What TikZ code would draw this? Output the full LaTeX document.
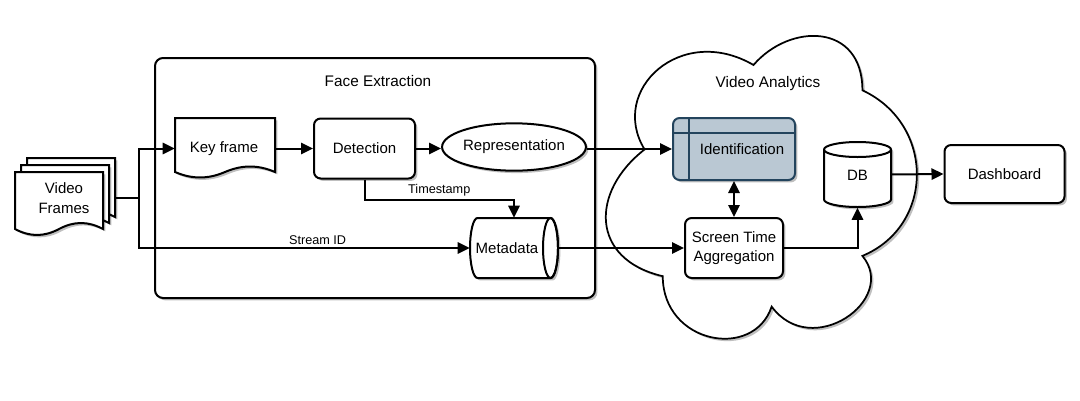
\documentclass[tikz,border=0pt]{standalone}
\usepackage{fontspec}
\setmainfont{Liberation Sans}
\usetikzlibrary{arrows.meta,shadows,shapes.geometric}
\newcommand\DocShp[5]{%
 \path[shp] (#1,#2) -- (#1+#3,#2) -- (#1+#3,#4)
   .. controls (#1+0.83*#3,#4-1.33*#5) and (#1+0.67*#3,#4-1.33*#5) .. (#1+0.5*#3,#4)
   .. controls (#1+0.33*#3,#4+1.33*#5) and (#1+0.17*#3,#4+1.33*#5) .. (#1,#4) -- cycle;}
\definecolor{idfill}{HTML}{BAC8D3}
\definecolor{idstroke}{HTML}{23445D}
\begin{document}
\begin{tikzpicture}[x=0.75pt,y=-0.75pt,
  shad/.style={drop shadow={shadow xshift=1.8pt,shadow yshift=-1.8pt,opacity=0.25,fill=black}},
  shp/.style={line width=1.5pt,draw=black,fill=white,shad},
  txt/.style={font=\fontsize{11.25}{14.5}\selectfont,align=center,inner sep=0pt},
  rbox/.style={shp,rounded corners=5pt,inner sep=0pt,txt},
  anch/.style={draw=none,fill=none,inner sep=0pt},
  lbl/.style={font=\fontsize{9.5}{11}\selectfont,inner sep=1.5pt},
  con/.style={line width=1.5pt,-{Triangle[length=9pt,width=8.5pt]}},
  plain/.style={line width=1.5pt}]
\useasboundingbox[fill=white] (0,0) rectangle (1080,400);

% Face Extraction container
\node[shp,rounded corners=6pt,minimum width=330pt,minimum height=180pt,inner sep=0pt] (fe) at (375,178) {};
\node[txt,font=\fontsize{11.5}{14}\selectfont] (fetitle) at (378,81) {Face Extraction};

% Video Analytics cloud
\path[shp,line width=1.3pt] (662.75,276.2)
  .. controls (662.75,343.8) and (753.5,360.7) .. (771.65,306.6)
  .. controls (811.6,360.7) and (898.7,299.9) .. (862.4,255.9)
  .. controls (935,225.5) and (935,124.1) .. (862.4,90.3)
  .. controls (862.4,22.7) and (789.8,22.7) .. (753.5,65)
  .. controls (680.9,22.7) and (608.3,90.3) .. (644.6,149.45)
  .. controls (590.15,191.7) and (590.15,259.3) .. (662.75,276.2) -- cycle;
\node[txt,font=\fontsize{11.5}{14}\selectfont] (vatitle) at (768,84) {Video Analytics};

% Video Frames (multiple documents)
\DocShp{27}{158}{88}{217}{6}
\DocShp{21}{165}{88}{223}{6}
\DocShp{15}{172}{88}{229}{6}
\node[anch,minimum width=75pt,minimum height=30pt] (vf) at (65,198) {};
\node[txt] (vftext) at (64,198) {Video\\Frames};

% Key frame (document)
\DocShp{175}{118}{100}{172}{5.5}
\node[anch,minimum width=75pt,minimum height=30pt] (kf) at (225,148.5) {};
\node[txt] (kftext) at (224,148.5) {Key frame};

% Detection
\node[rbox,minimum width=75.75pt,minimum height=45pt] (det) at (364.5,148.5) {Detection};

% Representation
\node[shp,ellipse,inner sep=0pt,txt,minimum width=91.5pt,minimum height=35.5pt] (rep) at (514,147) {Representation};

% Metadata (horizontal cylinder)
\path[shp] (477.5,218) -- (550.5,218)
  arc[start angle=270,end angle=450,x radius=7.5,y radius=30]
  -- (477.5,278)
  arc[start angle=90,end angle=270,x radius=7.5,y radius=30] -- cycle;
\draw[plain] (550.5,248) ellipse [x radius=7.5,y radius=30];
\node[anch,minimum width=66pt,minimum height=45pt] (meta) at (514,248) {};
\node[txt] (metatext) at (507,248) {Metadata};

% Identification
\node[rbox,fill=idfill,draw=idstroke,minimum width=91.5pt,minimum height=46.5pt] (id) at (734,149) {};
\draw[idstroke,line width=1.5pt] (689,118) -- (689,180);
\draw[idstroke,line width=1.5pt] (673,133) -- (795,133);
\node[txt] (idtext) at (742,149) {Identification};

% Screen Time Aggregation
\node[rbox,minimum width=73.5pt,minimum height=45pt] (sta) at (734,248) {Screen Time\\Aggregation};

% DB cylinder
\path[shp] (824,149.5) -- (824,199.5)
  arc[start angle=180,end angle=0,x radius=33.5,y radius=7.5]
  -- (891,149.5)
  arc[start angle=0,end angle=-180,x radius=33.5,y radius=7.5] -- cycle;
\draw[plain] (824,149.5) arc[start angle=180,end angle=0,x radius=33.5,y radius=7.5];
\node[anch,minimum width=50.25pt,minimum height=49.5pt] (db) at (857.5,174.5) {};
\node[txt] (dbtext) at (857.5,175) {DB};

% Dashboard
\node[rbox,minimum width=90pt,minimum height=43.5pt] (dash) at (1004.5,174) {Dashboard};

% Connectors
\coordinate (j1) at (139,198);
\draw[plain] (vf.east) -- (j1);
\draw[con] (j1) |- (kf.west);
\draw[con] (j1) |- node[lbl,above,pos=0.77] (sid) {Stream ID} (meta.west);
\draw[con] (kf.east) -- (det.west);
\draw[con] (det.east) -- (rep.west |- det.east);
\draw[con] (det.south) -- ++(0,20) -| node[lbl,above,pos=0.25] (ts) {Timestamp} (meta.north);
\draw[con] (rep.east |- id.west) -- (id.west);
\draw[con] (meta.east) -- (sta.west);
\draw[line width=1.5pt,{Triangle[length=9pt,width=8.5pt]}-{Triangle[length=9pt,width=8.5pt]}] (id.south) -- (sta.north);
\draw[con] (sta.east) -| (db.south);
\draw[con] (db.east) -- (dash.west);
\end{tikzpicture}
\end{document}
